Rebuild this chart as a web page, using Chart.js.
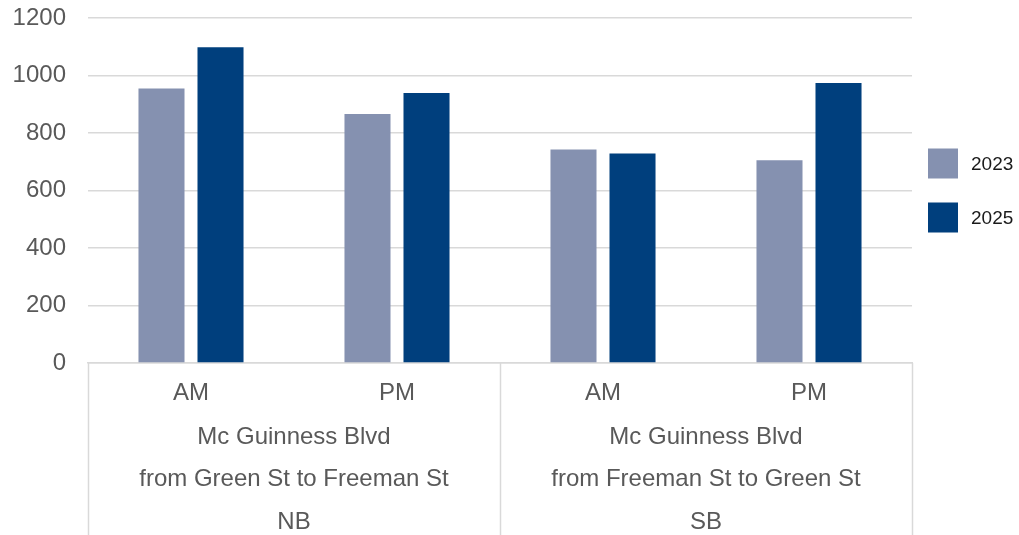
<!DOCTYPE html>
<html>
<head>
<meta charset="utf-8">
<script src="https://cdn.jsdelivr.net/npm/chart.js@4/dist/chart.umd.min.js"></script>
<style>
  html, body { margin: 0; padding: 0; background: #fff; }
  #wrap { width: 1019px; height: 535px; position: relative; }
</style>
</head>
<body>
<div id="wrap"><canvas id="c"></canvas></div>
<script>
// ---- data ----
const categories = ['AM', 'PM', 'AM', 'PM'];
const groupLabels = [
  ['Mc Guinness Blvd', 'from Green St to Freeman St', 'NB'],
  ['Mc Guinness Blvd', 'from Freeman St to Green St', 'SB']
];
const groupSize = 2;
const seriesNames = ['2023', '2025'];
const values2023 = [955, 866, 743, 705];
const values2025 = [1098, 939, 729, 974];
const yMin = 0, yMax = 1200, yStep = 200;

// ---- styles ----
const FONT = '"Liberation Sans", Arial, sans-serif';
const gridColor = '#d9d9d9';
const tickColor = '#595959';
const colors = ['#8591b0', '#003f7d'];

const groupAxisPlugin = {
  id: 'groupAxis',
  afterDraw(chart) {
    const x = chart.scales.x;
    const ctx = chart.ctx;
    const n = categories.length;
    const catW = (x.right - x.left) / n;
    const top = x.top;
    const bottom = chart.height;
    ctx.save();
    ctx.strokeStyle = gridColor;
    ctx.lineWidth = 1.5;
    const nGroups = groupLabels.length;
    for (let g = 0; g <= nGroups; g++) {
      let px = g * groupSize >= n ? x.getPixelForValue(n - 1) + catW / 2
                                  : x.getPixelForValue(g * groupSize) - catW / 2;
      px = Math.round(px) + 0.5;
      ctx.beginPath();
      ctx.moveTo(px, top);
      ctx.lineTo(px, bottom);
      ctx.stroke();
    }
    ctx.fillStyle = tickColor;
    ctx.font = '24px ' + FONT;
    ctx.textAlign = 'center';
    ctx.textBaseline = 'middle';
    for (let g = 0; g < nGroups; g++) {
      const a = x.getPixelForValue(g * groupSize);
      const b = x.getPixelForValue(g * groupSize + groupSize - 1);
      const cx = (a + b) / 2;
      groupLabels[g].forEach((line, i) => {
        ctx.fillText(line, cx, top + 74 + i * 42.5);
      });
    }
    // legend
    const area = chart.chartArea;
    const box = 30, gap = 54;
    const midY = (area.top + area.bottom) / 2;
    const startY = midY - ((chart.data.datasets.length - 1) * gap) / 2;
    ctx.font = '19px ' + FONT;
    ctx.textAlign = 'left';
    chart.data.datasets.forEach((ds, i) => {
      const cy = startY + i * gap;
      const bx = area.right + 16;
      ctx.fillStyle = ds.backgroundColor;
      ctx.fillRect(bx, cy - box / 2, box, box);
      ctx.fillStyle = '#1a1a1a';
      ctx.fillText(ds.label, bx + box + 13, cy + 1);
    });
    ctx.restore();
  }
};

new Chart(document.getElementById('c'), {
  type: 'bar',
  data: {
    labels: categories,
    datasets: [
      { label: seriesNames[0], data: values2023, backgroundColor: colors[0], borderWidth: 0 },
      { label: seriesNames[1], data: values2025, backgroundColor: colors[1], borderWidth: 0 }
    ]
  },
  options: {
    responsive: true,
    maintainAspectRatio: false,
    animation: false,
    layout: { padding: { top: 18, right: 107, left: 0, bottom: 0 } },
    datasets: { bar: { categoryPercentage: 0.573, barPercentage: 0.78 } },
    plugins: {
      legend: { display: false },
      tooltip: { enabled: false }
    },
    scales: {
      x: {
        grid: { display: false },
        border: { display: true, color: gridColor, width: 1.5 },
        ticks: {
          color: tickColor,
          font: { family: FONT, size: 24 },
          padding: 8,
          maxRotation: 0
        },
        afterFit(scale) { scale.height = 172; scale.paddingLeft = 0; scale.paddingRight = 0; }
      },
      y: {
        min: yMin,
        max: yMax,
        ticks: {
          stepSize: yStep,
          color: tickColor,
          font: { family: FONT, size: 24 },
          padding: 22,
          callback: v => String(v)
        },
        grid: { color: gridColor, lineWidth: 1.5, drawTicks: false },
        border: { display: false },
        afterFit(scale) { scale.width = 88; scale.paddingTop = 0; scale.paddingBottom = 0; }
      }
    }
  },
  plugins: [groupAxisPlugin]
});
</script>
</body>
</html>
